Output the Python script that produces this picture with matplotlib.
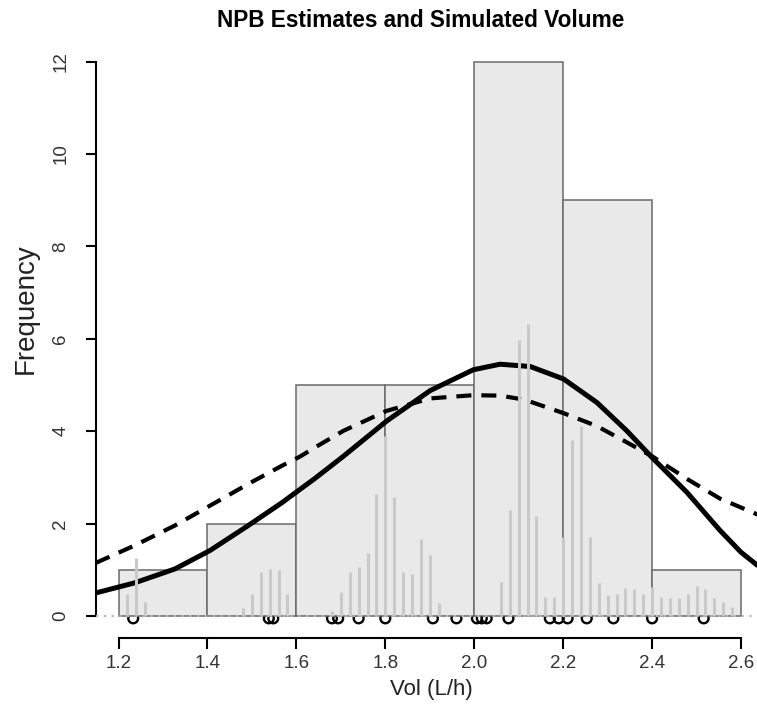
import matplotlib
matplotlib.use('Agg')
import matplotlib.pyplot as plt

plt.rcParams['font.family'] = ['Liberation Sans', 'DejaVu Sans']

# histogram of the simulated volumes
binEdges = [1.2, 1.4, 1.6, 1.8, 2.0, 2.2, 2.4, 2.6]
binCounts = [1, 2, 5, 5, 12, 9, 1]

# NPB estimate spikes (grey vertical lines)
spikeX = [1.22, 1.24, 1.26,
          1.48, 1.50, 1.52, 1.54, 1.56, 1.58,
          1.68, 1.70, 1.72, 1.74, 1.76, 1.78, 1.80, 1.82, 1.84, 1.86, 1.88, 1.90, 1.92,
          2.06, 2.08, 2.10, 2.12, 2.14, 2.16, 2.18, 2.20, 2.22, 2.24, 2.26, 2.28,
          2.30, 2.32, 2.34, 2.36, 2.38, 2.40, 2.42, 2.44, 2.46, 2.48, 2.50, 2.52,
          2.54, 2.56, 2.58]
spikeH = [0.48, 1.25, 0.30,
          0.17, 0.47, 0.95, 1.01, 0.99, 0.48,
          0.10, 0.52, 0.95, 1.06, 1.36, 2.64, 3.90, 2.57, 0.95, 0.92, 1.66, 1.32, 0.29,
          0.74, 2.30, 5.98, 6.32, 2.16, 0.41, 0.41, 1.72, 3.81, 4.12, 1.72, 0.72,
          0.45, 0.48, 0.60, 0.59, 0.48, 0.63, 0.41, 0.38, 0.38, 0.48, 0.66, 0.59,
          0.38, 0.30, 0.20]

# observed individual estimates (rug)
rugX = [1.233, 1.538, 1.548, 1.680, 1.694, 1.740, 1.800, 1.907, 1.960,
        2.006, 2.017, 2.028, 2.077, 2.170, 2.190, 2.210, 2.253, 2.313, 2.400, 2.516]

# fitted curves
solidX = [1.149, 1.237, 1.327, 1.406, 1.492, 1.567, 1.608, 1.642, 1.706, 1.803,
          1.901, 1.998, 2.058, 2.126, 2.201, 2.276, 2.343, 2.403, 2.478, 2.553,
          2.600, 2.656]
solidY = [0.50, 0.72, 1.02, 1.42, 1.96, 2.45, 2.74, 2.98, 3.46, 4.22,
          4.88, 5.33, 5.45, 5.40, 5.13, 4.62, 4.01, 3.40, 2.68, 1.85,
          1.38, 0.95]
dashX = [1.149, 1.237, 1.327, 1.406, 1.492, 1.567, 1.608, 1.642, 1.706, 1.803,
         1.901, 1.998, 2.058, 2.096, 2.126, 2.201, 2.276, 2.343, 2.403, 2.478, 2.553, 2.656]
dashY = [1.15, 1.53, 1.96, 2.39, 2.86, 3.25, 3.45, 3.65, 4.01, 4.44,
         4.71, 4.78, 4.77, 4.71, 4.64, 4.39, 4.11, 3.76, 3.44, 2.97, 2.54, 2.12]

fig = plt.figure(figsize=(7.57, 7.15), dpi=100)
ax = fig.add_axes([0.1266, 0.1074, 0.8852, 0.8375])

ax.scatter(rugX, [-0.05] * len(rugX), s=50, facecolors='none', edgecolors='black',
           linewidths=1.7, zorder=1, clip_on=False)

widths = [binEdges[i + 1] - binEdges[i] for i in range(len(binCounts))]
ax.bar(binEdges[:-1], binCounts, width=widths, align='edge', color='#e9e9e9',
       edgecolor='#6a6a6a', linewidth=1.1, zorder=2)

ax.plot(solidX, solidY, color='black', lw=3.6, zorder=3, solid_capstyle='butt')
ax.plot(dashX, dashY, color='black', lw=3.0, dashes=(3.6, 2.4), zorder=3)

ax.vlines(spikeX, 0, spikeH, color='#c9c9c9', lw=2.2, zorder=4)
ax.axhline(0, color='#b5b5b5', lw=1.6, ls=(0, (1, 2.5)), zorder=5)

ax.set_xlim(1.149, 2.656)
ax.set_ylim(-0.48, 12.48)

for side in ['top', 'right']:
    ax.spines[side].set_visible(False)
ax.spines['left'].set_bounds(0, 12)
ax.spines['bottom'].set_bounds(1.2, 2.6)
ax.spines['left'].set_linewidth(1.5)
ax.spines['bottom'].set_linewidth(1.5)

ax.set_xticks(binEdges)
ax.set_xticklabels(['%.1f' % v for v in binEdges])
ax.set_yticks([0, 2, 4, 6, 8, 10, 12])
ax.tick_params(axis='x', length=8, width=1.5, labelsize=13.5, pad=4, labelcolor='#333333')
ax.tick_params(axis='y', length=7, width=1.5, labelsize=13.5, pad=12, labelcolor='#333333',
               labelrotation=90)
for lab in ax.get_yticklabels():
    lab.set_verticalalignment('center')

ax.set_xlabel('Vol (L/h)', fontsize=16, labelpad=5, color='#222222')
ax.set_ylabel('Frequency', fontsize=20, color='#222222')
ax.yaxis.set_label_coords(-0.085, 0.551)
fig.text(0.555, 0.972, 'NPB Estimates and Simulated Volume', fontsize=16.3,
         fontweight='bold', ha='center', va='center')

fig.savefig('out.png', dpi=100)
